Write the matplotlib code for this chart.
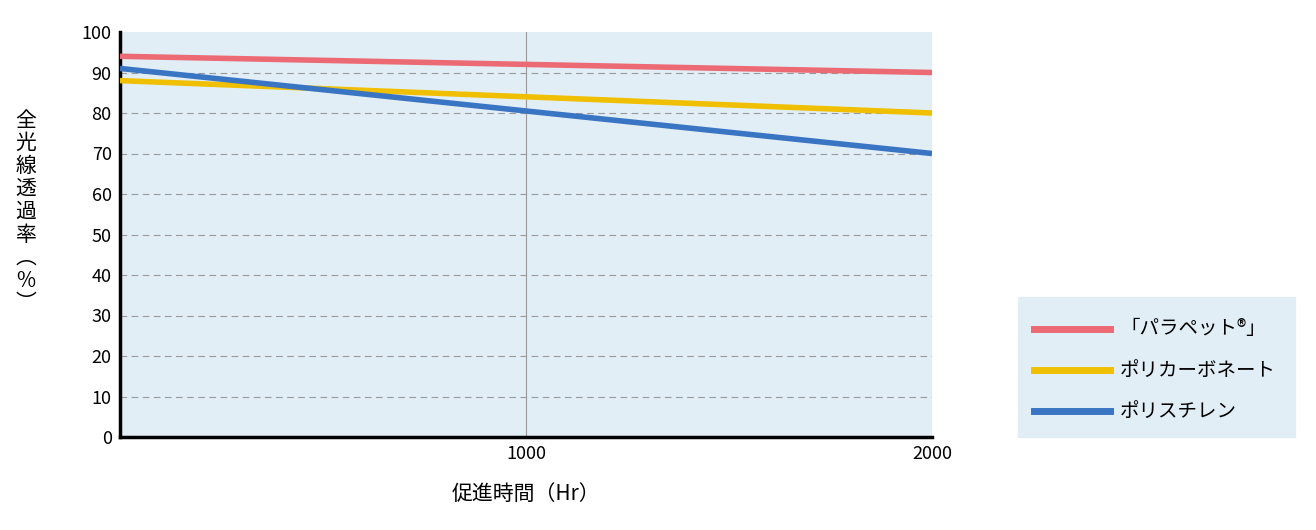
import matplotlib.pyplot as plt
from matplotlib.patches import Rectangle
from matplotlib.lines import Line2D

plt.rcParams['font.family'] = ['Noto Sans CJK JP', 'DejaVu Sans']

hours = [0, 1000, 2000]
parapet = [94, 92, 90]
polycarbonate = [88, 84, 80]
polystyrene = [91, 80.5, 70]
names = ['「パラペット®」', 'ポリカーボネート', 'ポリスチレン']
colors = ['#ec6a73', '#f0c000', '#3a75c4']

fig = plt.figure(figsize=(13.16, 5.3), dpi=100)
ax = fig.add_axes([120/1316, 93/530, 812/1316, 405/530])
ax.set_facecolor('#e2eef6')

for y in range(10, 100, 10):
    ax.axhline(y, color='#999999', lw=0.8, ls=(0, (6, 4)), zorder=1)
ax.axvline(1000, color='#999999', lw=0.8, zorder=1)

for vals, c in zip([parapet, polycarbonate, polystyrene], colors):
    ax.plot(hours, vals, color=c, lw=4, zorder=3, solid_capstyle='butt')

ax.set_xlim(0, 2000)
ax.set_ylim(0, 100)
ax.set_xticks([1000, 2000])
ax.set_yticks(range(0, 101, 10))
ax.tick_params(length=0, labelsize=13, pad=6)
for s in ['top', 'right']:
    ax.spines[s].set_visible(False)
for s in ['left', 'bottom']:
    ax.spines[s].set_linewidth(2.5)

ax.set_xlabel('促進時間（Hr）', fontsize=15, labelpad=14)
fig.text(26/1316, 0.6, '\n'.join('全光線透過率') + '\n︵\n%\n︶', fontsize=15,
         ha='center', va='center', linespacing=1.05)

# legend box
fig.patches.append(Rectangle((1018/1316, 93/530), 277/1316, 140/530,
                             transform=fig.transFigure, color='#e2eef6'))
for i, (n, c) in enumerate(zip(names, colors)):
    yy = (530 - 329 - i * 41) / 530
    fig.lines.append(Line2D([1034/1316, 1110/1316], [yy, yy], color=c, lw=5,
                            transform=fig.transFigure))
    fig.text(1120/1316, yy, n, fontsize=14, va='center')

fig.savefig('out.png')
